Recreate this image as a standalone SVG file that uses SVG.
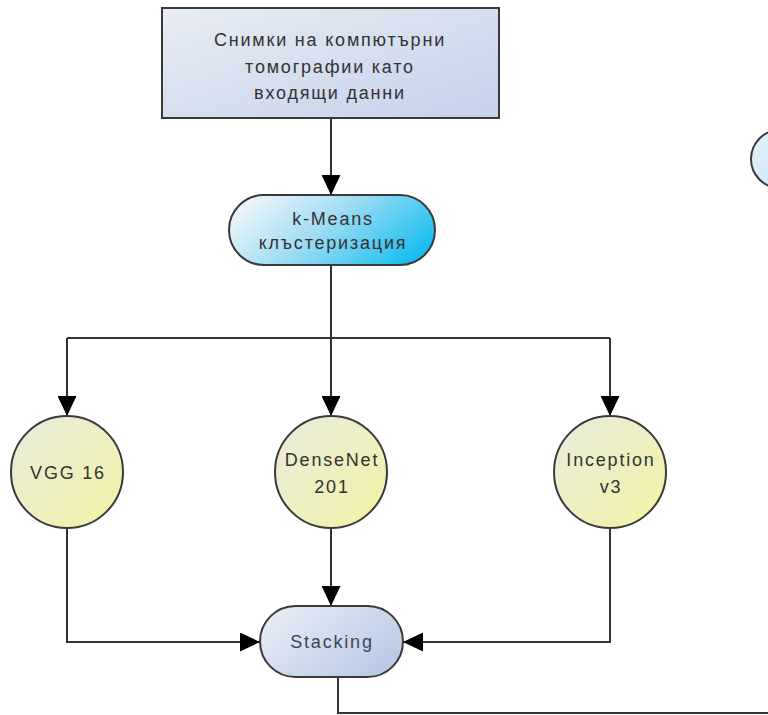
<svg xmlns="http://www.w3.org/2000/svg" width="768" height="715" viewBox="0 0 768 715">
  <defs>
    <linearGradient id="gRect" x1="0" y1="0" x2="1" y2="1">
      <stop offset="0" stop-color="#e9edf4"/>
      <stop offset="1" stop-color="#c3d1ea"/>
    </linearGradient>
    <linearGradient id="gCyan" x1="0" y1="0.3" x2="1" y2="0.7">
      <stop offset="0" stop-color="#eef5f9"/>
      <stop offset="0.45" stop-color="#9fdcf3"/>
      <stop offset="1" stop-color="#14bdf0"/>
    </linearGradient>
    <linearGradient id="gYellow" x1="0" y1="0" x2="1" y2="1">
      <stop offset="0" stop-color="#e8ecdf"/>
      <stop offset="1" stop-color="#f3f2a4"/>
    </linearGradient>
    <linearGradient id="gStack" x1="0" y1="0.2" x2="1" y2="0.8">
      <stop offset="0" stop-color="#e6ecf5"/>
      <stop offset="1" stop-color="#b7c8e4"/>
    </linearGradient>
    <linearGradient id="gBlue" x1="0" y1="0" x2="1" y2="1">
      <stop offset="0" stop-color="#e6f3fa"/>
      <stop offset="1" stop-color="#bfe3f6"/>
    </linearGradient>
    <marker id="arrow" markerUnits="userSpaceOnUse" markerWidth="20" markerHeight="19" refX="20" refY="9.5" orient="auto">
      <path d="M0,0 L20,9.5 L0,19 z" fill="#000"/>
    </marker>
  </defs>
  <style>
    .shape { stroke: #3a3a3a; stroke-width: 2; }
    .lbl { font-family: "Liberation Sans", Arial, sans-serif; font-size: 18px; letter-spacing: 1.8px; fill: #333; text-anchor: middle; }
    .conn { fill: none; stroke: #333; stroke-width: 2; }
  </style>
  <rect width="768" height="715" fill="#fff"/>

  <g id="connectors">
    <path class="conn" d="M331,118 V195" marker-end="url(#arrow)"/>
    <path class="conn" d="M331,265 V338"/>
    <path class="conn" d="M67,338 H610"/>
    <path class="conn" d="M67,338 V416" marker-end="url(#arrow)"/>
    <path class="conn" d="M331,338 V416" marker-end="url(#arrow)"/>
    <path class="conn" d="M610,338 V416" marker-end="url(#arrow)"/>
    <path class="conn" d="M67,528 V642 H260" marker-end="url(#arrow)"/>
    <path class="conn" d="M331,528 V606" marker-end="url(#arrow)"/>
    <path class="conn" d="M610,528 V642 H403" marker-end="url(#arrow)"/>
    <path class="conn" d="M338,677 V713 H768"/>
  </g>

  <g id="input">
    <rect class="shape" x="162" y="8" width="337" height="110" fill="url(#gRect)"/>
    <text class="lbl" x="330" y="46">Снимки на компютърни</text>
    <text class="lbl" x="330" y="73">томографии като</text>
    <text class="lbl" x="330" y="99">входящи данни</text>
  </g>

  <g id="kmeans">
    <rect class="shape" x="229" y="195" width="206" height="70" rx="35" fill="url(#gCyan)"/>
    <text class="lbl" x="333" y="225">k-Means</text>
    <text class="lbl" x="333" y="249">клъстеризация</text>
  </g>

  <g id="vgg16">
    <circle class="shape" cx="67" cy="472" r="56" fill="url(#gYellow)"/>
    <text class="lbl" x="68" y="479">VGG 16</text>
  </g>

  <g id="densenet">
    <circle class="shape" cx="331" cy="472" r="56" fill="url(#gYellow)"/>
    <text class="lbl" x="332" y="466">DenseNet</text>
    <text class="lbl" x="332" y="493">201</text>
  </g>

  <g id="inception">
    <circle class="shape" cx="610" cy="472" r="56" fill="url(#gYellow)"/>
    <text class="lbl" x="611" y="466">Inception</text>
    <text class="lbl" x="611" y="493">v3</text>
  </g>

  <g id="stacking">
    <rect class="shape" x="260" y="606" width="143" height="71" rx="35.5" fill="url(#gStack)"/>
    <text class="lbl" x="332" y="648" style="fill:#3b4656">Stacking</text>
  </g>

  <g id="right-node">
    <circle class="shape" cx="780" cy="159" r="29" fill="url(#gBlue)"/>
  </g>
</svg>
